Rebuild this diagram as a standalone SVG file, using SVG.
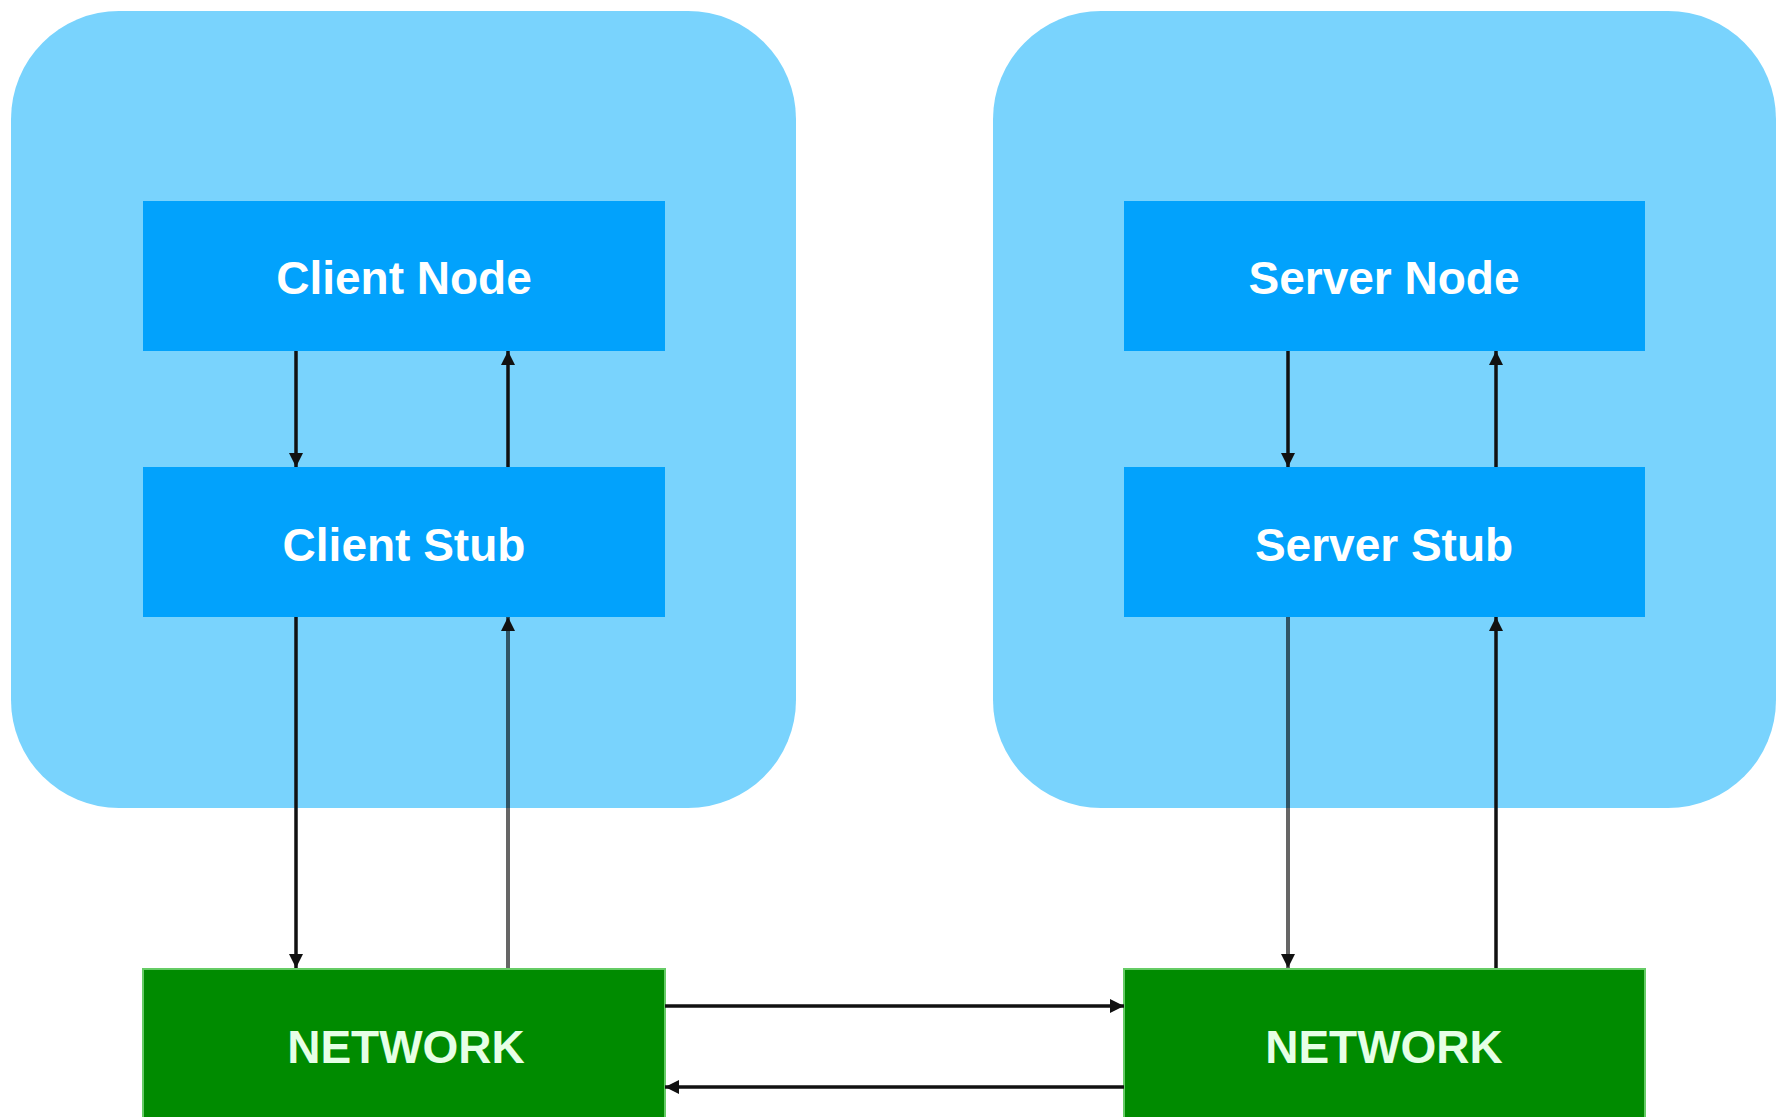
<svg xmlns="http://www.w3.org/2000/svg" width="1783" height="1117" viewBox="0 0 1783 1117">
<style>
.container{fill:#79D3FD}
.box{fill:#02A2FC}
.net{fill:#008B00;stroke:#66CC66;stroke-width:2}
.lbl{font-family:"Liberation Sans",Arial,sans-serif;font-weight:bold;font-size:46px;fill:#FFFFFF;text-anchor:middle}
.netlbl{fill:#E6FFE6}
.c{stroke:#111;stroke-width:3.5;fill:none}
.g{stroke:#000;stroke-opacity:0.6;stroke-width:4;fill:none}
</style>
<defs>
<marker id="ah" markerUnits="userSpaceOnUse" markerWidth="14" markerHeight="14" refX="14" refY="7" orient="auto">
<path d="M0,0 L14,7 L0,14 z" fill="#111"/>
</marker>
</defs>
<rect width="1783" height="1117" fill="#FFFFFF"/>
<g id="client-host"><rect class="container" x="11" y="11" width="785" height="797" rx="108" ry="108"/></g>
<g id="server-host"><rect class="container" x="993" y="11" width="783" height="797" rx="108" ry="108"/></g>
<g id="client-node"><rect class="box" x="143" y="201" width="522" height="150"/><text class="lbl" x="404" y="294">Client Node</text></g>
<g id="client-stub"><rect class="box" x="143" y="467" width="522" height="150"/><text class="lbl" x="404" y="561">Client Stub</text></g>
<g id="server-node"><rect class="box" x="1124" y="201" width="521" height="150"/><text class="lbl" x="1384" y="294">Server Node</text></g>
<g id="server-stub"><rect class="box" x="1124" y="467" width="521" height="150"/><text class="lbl" x="1384" y="561">Server Stub</text></g>
<g id="client-network"><rect class="net" x="143" y="969" width="522" height="160"/><text class="lbl netlbl" x="406" y="1063">NETWORK</text></g>
<g id="server-network"><rect class="net" x="1124" y="969" width="521" height="160"/><text class="lbl netlbl" x="1384" y="1063">NETWORK</text></g>
<g id="connectors">
<line class="c" x1="296" y1="351" x2="296" y2="467" marker-end="url(#ah)"/>
<line class="c" x1="508" y1="467" x2="508" y2="351" marker-end="url(#ah)"/>
<line class="c" x1="296" y1="617" x2="296" y2="968" marker-end="url(#ah)"/>
<line class="g" x1="508" y1="968" x2="508" y2="617" marker-end="url(#ah)"/>
<line class="c" x1="1288" y1="351" x2="1288" y2="467" marker-end="url(#ah)"/>
<line class="c" x1="1496" y1="467" x2="1496" y2="351" marker-end="url(#ah)"/>
<line class="g" x1="1288" y1="617" x2="1288" y2="968" marker-end="url(#ah)"/>
<line class="c" x1="1496" y1="968" x2="1496" y2="617" marker-end="url(#ah)"/>
<line class="c" x1="665" y1="1006" x2="1124" y2="1006" marker-end="url(#ah)"/>
<line class="c" x1="1124" y1="1087" x2="665" y2="1087" marker-end="url(#ah)"/>
</g>
</svg>
